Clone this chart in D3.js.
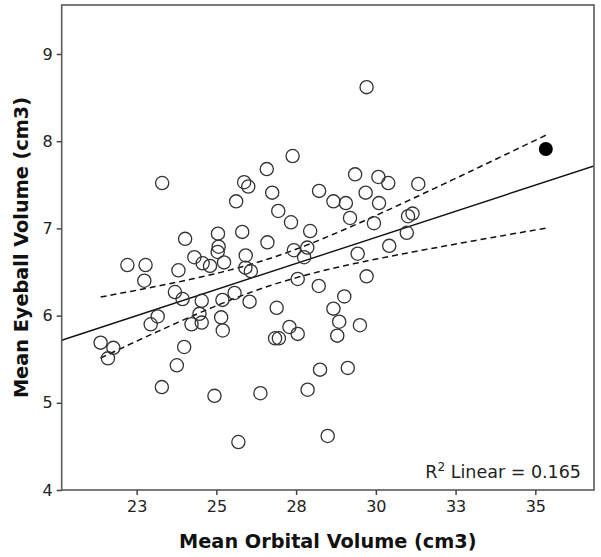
<!DOCTYPE html>
<html>
<head>
<meta charset="utf-8">
<script src="https://cdn.jsdelivr.net/npm/d3@7"></script>
<style>
  html, body { margin: 0; padding: 0; background: #fff; }
  svg { display: block; }
  text { font-family: "DejaVu Sans", Verdana, sans-serif; }
</style>
</head>
<body>
<svg id="chart" width="601" height="557"></svg>
<script>
// ---- data ----
const orbitalVolume = [
  21.37, 21.77, 21.60, 22.94, 23.16, 23.99, 23.76, 23.29, 24.94, 24.22,
  24.54, 24.47, 25.15, 25.20, 25.69, 23.30, 24.02, 25.05, 25.07, 25.04,
  24.31, 24.57, 24.80, 25.24, 23.81, 22.21, 22.78, 22.74, 23.70, 23.94,
  24.54, 25.19, 25.57, 26.04, 25.81, 25.62, 25.92, 25.91, 26.08, 27.39,
  26.58, 25.87, 26.00, 29.35, 30.08, 30.39, 31.33, 26.75, 28.22, 29.68,
  28.67, 29.06, 30.10, 26.94, 29.19, 31.01, 31.15, 27.34, 29.94, 27.94,
  30.97, 26.60, 27.43, 27.85, 27.75, 29.43, 30.42, 29.71, 27.55, 28.21,
  29.01, 26.89, 28.67, 28.85, 29.50, 27.29, 27.55, 26.84, 26.96, 28.79,
  28.25, 29.12, 27.86, 26.38, 28.49, 29.71
];
const eyeballVolume = [
  5.69, 5.63, 5.51, 5.90, 5.99, 5.64, 5.43, 5.18, 5.08, 5.90,
  5.92, 6.02, 5.98, 5.83, 4.55, 7.52, 6.88, 6.94, 6.79, 6.73,
  6.67, 6.60, 6.57, 6.61, 6.52, 6.58, 6.58, 6.40, 6.27, 6.19,
  6.17, 6.18, 6.26, 6.16, 6.96, 7.31, 6.69, 6.55, 6.51, 7.83,
  7.68, 7.53, 7.48, 7.62, 7.59, 7.52, 7.51, 7.41, 7.43, 7.41,
  7.31, 7.29, 7.29, 7.20, 7.12, 7.14, 7.17, 7.07, 7.06, 6.97,
  6.95, 6.84, 6.75, 6.78, 6.67, 6.71, 6.80, 6.45, 6.42, 6.34,
  6.22, 6.09, 6.08, 5.93, 5.89, 5.87, 5.79, 5.74, 5.74, 5.77,
  5.38, 5.40, 5.15, 5.11, 4.62, 8.62
];
// highlighted (filled) case
const selectedOrbital = [35.33];
const selectedEyeball = [7.91];

const xTickValues = [22.5, 25, 27.5, 30, 32.5, 35];
const xTickLabels = ["23", "25", "28", "30", "33", "35"];
const yTickValues = [4, 5, 6, 7, 8, 9];
const xDomain = [20.15, 36.84];
const yDomain = [4, 9.562];
const xTitle = "Mean Orbital Volume (cm3)";
const yTitle = "Mean Eyeball Volume (cm3)";
const rSquaredLabel = "0.165";

// ---- layout ----
const svg = d3.select("#chart");
const plot = { left: 61.7, right: 594, top: 5, bottom: 490 };

const x = d3.scaleLinear().domain(xDomain).range([plot.left, plot.right]);
const y = d3.scaleLinear().domain(yDomain).range([plot.bottom, plot.top]);

// ---- regression (all cases, incl. highlighted) ----
const allX = orbitalVolume.concat(selectedOrbital);
const allY = eyeballVolume.concat(selectedEyeball);
const n = allX.length;
const mx = d3.mean(allX), my = d3.mean(allY);
let sxx = 0, sxy = 0;
for (let i = 0; i < n; i++) { sxx += (allX[i]-mx)**2; sxy += (allX[i]-mx)*(allY[i]-my); }
const slope = sxy / sxx, intercept = my - slope * mx;
let sse = 0;
for (let i = 0; i < n; i++) sse += (allY[i] - (intercept + slope*allX[i]))**2;
const s = Math.sqrt(sse / (n - 2));
const tCrit = 1.988;
const fit = v => intercept + slope * v;
const half = v => tCrit * s * Math.sqrt(1/n + (v-mx)**2 / sxx);

// clip for fit line
svg.append("defs").append("clipPath").attr("id", "clip")
  .append("rect").attr("x", plot.left).attr("y", plot.top)
  .attr("width", plot.right - plot.left).attr("height", plot.bottom - plot.top);

const g = svg.append("g");

// CI curves
const xmin = d3.min(allX), xmax = d3.max(allX);
const samples = d3.range(0, 101).map(i => xmin + (xmax - xmin) * i / 100);
const line = d3.line().x(d => x(d[0])).y(d => y(d[1]));
g.append("path")
  .attr("d", line(samples.map(v => [v, fit(v) + half(v)])))
  .attr("fill", "none").attr("stroke", "#111").attr("stroke-width", 1.5)
  .attr("stroke-dasharray", "6,4");
g.append("path")
  .attr("d", line(samples.map(v => [v, fit(v) - half(v)])))
  .attr("fill", "none").attr("stroke", "#111").attr("stroke-width", 1.5)
  .attr("stroke-dasharray", "6,4");

// fit line across the whole plot
g.append("path")
  .attr("clip-path", "url(#clip)")
  .attr("d", line([[xDomain[0], fit(xDomain[0])], [xDomain[1], fit(xDomain[1])]]))
  .attr("fill", "none").attr("stroke", "#111").attr("stroke-width", 1.4);

// points
g.selectAll("circle.pt").data(d3.zip(orbitalVolume, eyeballVolume)).join("circle")
  .attr("class", "pt")
  .attr("cx", d => x(d[0])).attr("cy", d => y(d[1])).attr("r", 6.6)
  .attr("fill", "none").attr("stroke", "#333").attr("stroke-width", 1.3);
g.selectAll("circle.sel").data(d3.zip(selectedOrbital, selectedEyeball)).join("circle")
  .attr("class", "sel")
  .attr("cx", d => x(d[0])).attr("cy", d => y(d[1])).attr("r", 7)
  .attr("fill", "#000");

// frame
svg.append("rect")
  .attr("x", plot.left).attr("y", plot.top)
  .attr("width", plot.right - plot.left).attr("height", plot.bottom - plot.top)
  .attr("fill", "none").attr("stroke", "#5a5a5a").attr("stroke-width", 1.6);

// axes
const xAxis = d3.axisBottom(x).tickValues(xTickValues)
  .tickFormat((d, i) => xTickLabels[i]).tickSize(5).tickPadding(6);
const yAxis = d3.axisLeft(y).tickValues(yTickValues)
  .tickFormat(d3.format("d")).tickSize(5).tickPadding(4);

const gx = svg.append("g").attr("transform", `translate(0,${plot.bottom})`).call(xAxis);
const gy = svg.append("g").attr("transform", `translate(${plot.left},0)`).call(yAxis);
[gx, gy].forEach(a => {
  a.select(".domain").remove();
  a.selectAll(".tick line").attr("stroke", "#444").attr("stroke-width", 1.5);
  a.selectAll(".tick text").attr("fill", "#222").style("font-size", "16px")
    .style("font-family", "'DejaVu Sans', Verdana, sans-serif");
});

// axis titles
svg.append("text")
  .attr("x", (plot.left + plot.right) / 2).attr("y", 548)
  .attr("text-anchor", "middle").attr("font-weight", "bold")
  .style("font-size", "19.3px").attr("fill", "#111").text(xTitle);
svg.append("text")
  .attr("transform", `translate(28,${(plot.top + plot.bottom) / 2}) rotate(-90)`)
  .attr("text-anchor", "middle").attr("font-weight", "bold")
  .style("font-size", "19.3px").attr("fill", "#111").text(yTitle);

// R squared annotation
const rt = svg.append("text")
  .attr("x", 581).attr("y", 478).attr("text-anchor", "end")
  .style("font-size", "17.5px").attr("fill", "#222");
rt.append("tspan").text("R");
rt.append("tspan").attr("dy", -7).style("font-size", "12px").text("2");
rt.append("tspan").attr("dy", 7).text(" Linear = " + rSquaredLabel);
</script>
</body>
</html>
